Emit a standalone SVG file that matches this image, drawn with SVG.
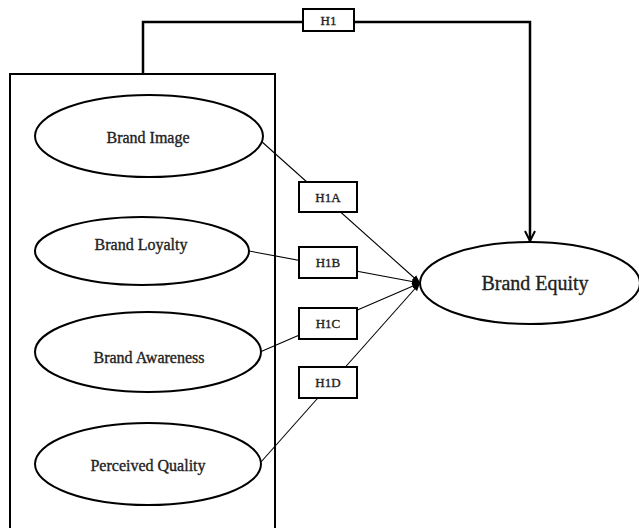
<svg xmlns="http://www.w3.org/2000/svg" width="639" height="528" viewBox="0 0 639 528">
<defs>
<marker id="fill" viewBox="0 0 10 10" refX="10" refY="5" markerWidth="8" markerHeight="8" markerUnits="userSpaceOnUse" orient="auto">
<path d="M0,1 L10,5 L0,9 Z" fill="#000"/>
</marker>
<marker id="open" viewBox="0 0 12 12" refX="11" refY="6" markerWidth="12" markerHeight="12" markerUnits="userSpaceOnUse" orient="auto">
<path d="M1,1 L11,6 L1,11" fill="none" stroke="#000" stroke-width="2"/>
</marker>
<style>
.ell{fill:#fff;stroke:#000;stroke-width:2}
.box{fill:#fff;stroke:#000;stroke-width:2}
.thin{fill:none;stroke:#000;stroke-width:1.1;marker-end:url(#fill)}
.thick{fill:none;stroke:#000;stroke-width:2.5}
.t{font-family:"Liberation Serif","Times New Roman",serif;fill:#222;stroke:#222;stroke-width:0.35;text-anchor:middle;dominant-baseline:central}
</style>
</defs>
<rect x="0" y="0" width="639" height="528" fill="#fff"/>
<g id="group-box">
<rect x="10" y="74" width="265" height="470" fill="none" stroke="#000" stroke-width="2"/>
</g>
<g id="connectors">
<path class="thick" d="M143,74 V22 H530 V241" marker-end="url(#open)"/>
<path class="thin" d="M261,141 L420,283"/>
<path class="thin" d="M249,251 L420,283"/>
<path class="thin" d="M260,352 L420,283"/>
<path class="thin" d="M261,462 L420,283"/>
</g>
<g id="label-H1">
<rect class="box" x="303" y="9" width="51" height="22"/>
<text class="t" x="328.5" y="20.5" font-size="13">H1</text>
</g>
<g id="brand-image">
<ellipse class="ell" cx="149" cy="136" rx="114" ry="41"/>
<text class="t" x="148" y="137" font-size="16">Brand Image</text>
</g>
<g id="brand-loyalty">
<ellipse class="ell" cx="142" cy="251" rx="107" ry="34"/>
<text class="t" x="141" y="244" font-size="16">Brand Loyalty</text>
</g>
<g id="brand-awareness">
<ellipse class="ell" cx="148" cy="352" rx="113" ry="40"/>
<text class="t" x="149" y="357" font-size="16">Brand Awareness</text>
</g>
<g id="perceived-quality">
<ellipse class="ell" cx="148" cy="464" rx="113" ry="41"/>
<text class="t" x="148" y="465" font-size="16">Perceived Quality</text>
</g>
<g id="brand-equity">
<ellipse class="ell" cx="530" cy="283" rx="110" ry="41"/>
<text class="t" x="535" y="283" font-size="20">Brand Equity</text>
</g>
<g id="label-H1A">
<rect class="box" x="299" y="182" width="58" height="30"/>
<text class="t" x="328" y="197" font-size="13">H1A</text>
</g>
<g id="label-H1B">
<rect class="box" x="299" y="247" width="58" height="31"/>
<text class="t" x="328" y="262.5" font-size="13">H1B</text>
</g>
<g id="label-H1C">
<rect class="box" x="299" y="308" width="58" height="31"/>
<text class="t" x="328" y="323.5" font-size="13">H1C</text>
</g>
<g id="label-H1D">
<rect class="box" x="299" y="367" width="58" height="31"/>
<text class="t" x="328" y="382.5" font-size="13">H1D</text>
</g>
</svg>
